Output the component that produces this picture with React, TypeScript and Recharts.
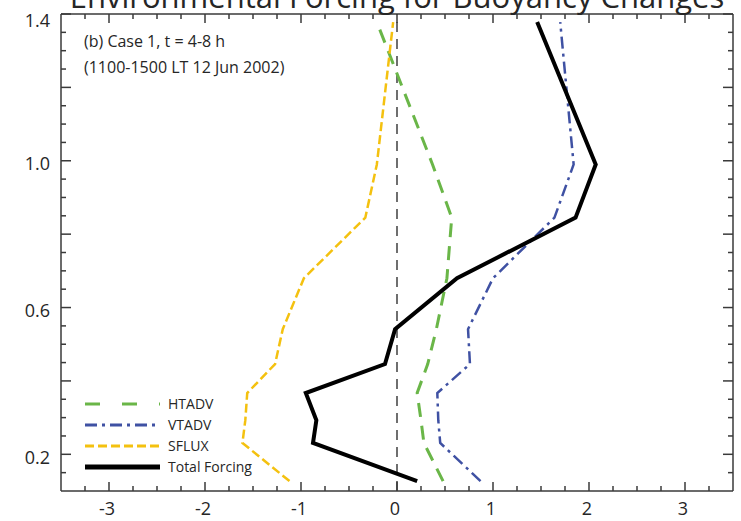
import React from "react";
import { LineChart, Line, XAxis, YAxis, ReferenceLine } from "recharts";

// height levels (km) and forcing terms at each level
const heights = [0.127, 0.231, 0.293, 0.367, 0.446, 0.541, 0.68, 0.845, 0.99, 1.378];
const htadv = [0.48, 0.28, 0.25, 0.21, 0.32, 0.41, 0.52, 0.57, 0.37, -0.21];
const vtadv = [0.87, 0.45, 0.43, 0.42, 0.76, 0.74, 1.0, 1.64, 1.84, 1.7];
const sflux = [-1.12, -1.61, -1.58, -1.56, -1.27, -1.19, -0.97, -0.33, -0.21, -0.04];
const total = [0.21, -0.875, -0.84, -0.95, -0.125, -0.02, 0.625, 1.86, 2.07, 1.46];

const xTicks = [
  -3.25, -3, -2.75, -2.5, -2.25, -2, -1.75, -1.5, -1.25, -1, -0.75, -0.5, -0.25, 0,
  0.25, 0.5, 0.75, 1, 1.25, 1.5, 1.75, 2, 2.25, 2.5, 2.75, 3, 3.25,
];
const xLabels = [-3, -2, -1, 0, 1, 2, 3];
const yTicks = [
  0.15, 0.2, 0.25, 0.3, 0.35, 0.4, 0.45, 0.5, 0.55, 0.6, 0.65, 0.7, 0.75,
  0.8, 0.85, 0.9, 0.95, 1.0, 1.05, 1.1, 1.15, 1.2, 1.25, 1.3, 1.35, 1.4,
];
const yMajor = [0.2, 0.4, 0.6, 0.8, 1.0, 1.2, 1.4];
const yLabels = [0.2, 0.6, 1.0, 1.4];

const data = heights.map((h, i) => ({
  h,
  htadv: htadv[i],
  vtadv: vtadv[i],
  sflux: sflux[i],
  total: total[i],
}));

const FONT = "'Open Sans', sans-serif";
const AXIS = "#3a3a3a";
const TEXT = "#262626";

const has = (arr: number[], v: number) => arr.some((m) => Math.abs(m - v) < 1e-6);

const BottomTick = (props: any) => {
  const { x, y, payload } = props;
  const v = payload.value;
  const major = Number.isInteger(v);
  return (
    <g>
      <line x1={x} x2={x} y1={y} y2={y - (major ? 9 : 5)} stroke={AXIS} strokeWidth={1.5} />
      {has(xLabels, v) && (
        <text x={x - 2} y={y + 24} textAnchor="middle" fontSize={18} fontFamily={FONT} fill={TEXT}>
          {v}
        </text>
      )}
    </g>
  );
};

const TopTick = (props: any) => {
  const { x, y, payload } = props;
  const major = Number.isInteger(payload.value);
  return <line x1={x} x2={x} y1={y} y2={y + (major ? 9 : 5)} stroke={AXIS} strokeWidth={1.5} />;
};

const LeftTick = (props: any) => {
  const { x, y, payload } = props;
  const v = payload.value;
  const major = has(yMajor, v);
  const shift = Math.abs(v - 1.4) < 1e-6 ? 7 : 3;
  return (
    <g>
      <line x1={x} x2={x + (major ? 10 : 5)} y1={y} y2={y} stroke={AXIS} strokeWidth={1.5} />
      {has(yLabels, v) && (
        <text x={x - 11} y={y + shift} dy="0.35em" textAnchor="end" fontSize={18} fontFamily={FONT} fill={TEXT}>
          {v.toFixed(1)}
        </text>
      )}
    </g>
  );
};

const RightTick = (props: any) => {
  const { x, y, payload } = props;
  const major = has(yMajor, payload.value);
  return <line x1={x} x2={x - (major ? 10 : 5)} y1={y} y2={y} stroke={AXIS} strokeWidth={1.5} />;
};

const series = [
  { key: "htadv", name: "HTADV", color: "#6ab648", width: 3, dash: "14 9" },
  { key: "vtadv", name: "VTADV", color: "#3f51a3", width: 2.5, dash: "12 5 3 5" },
  { key: "sflux", name: "SFLUX", color: "#f4c10f", width: 2.5, dash: "9 4" },
  { key: "total", name: "Total Forcing", color: "#000000", width: 4, dash: undefined },
];

export default function App() {
  return (
    <div style={{ position: "absolute", left: 0, top: 0, width: 741, height: 521, background: "#fff" }}>
      <LineChart
        width={741}
        height={521}
        data={data}
        layout="vertical"
        margin={{ top: 0, right: 0, bottom: 0, left: 0 }}
      >
        <XAxis
          xAxisId="b"
          type="number"
          domain={[-3.5, 3.5]}
          allowDataOverflow
          ticks={xTicks}
          interval={0}
          height={30}
          tickSize={0}
          tickMargin={0}
          tickLine={false}
          axisLine={{ stroke: AXIS, strokeWidth: 1.5 }}
          tick={<BottomTick />}
        />
        <XAxis
          xAxisId="t"
          orientation="top"
          type="number"
          domain={[-3.5, 3.5]}
          allowDataOverflow
          ticks={xTicks}
          interval={0}
          height={14}
          tickSize={0}
          tickMargin={0}
          tickLine={false}
          axisLine={{ stroke: AXIS, strokeWidth: 1.5 }}
          tick={<TopTick />}
        />
        <YAxis
          yAxisId="l"
          dataKey="h"
          type="number"
          domain={[0.1, 1.4]}
          allowDataOverflow
          reversed
          ticks={yTicks}
          interval={0}
          width={61}
          tickSize={0}
          tickMargin={0}
          tickLine={false}
          axisLine={{ stroke: AXIS, strokeWidth: 1.5 }}
          tick={<LeftTick />}
        />
        <YAxis
          yAxisId="r"
          orientation="right"
          dataKey="h"
          type="number"
          domain={[0.1, 1.4]}
          allowDataOverflow
          reversed
          ticks={yTicks}
          interval={0}
          width={8}
          tickSize={0}
          tickMargin={0}
          tickLine={false}
          axisLine={{ stroke: AXIS, strokeWidth: 1.5 }}
          tick={<RightTick />}
        />
        <ReferenceLine
          x={0}
          xAxisId="b"
          yAxisId="l"
          stroke="#222"
          strokeWidth={1.3}
          strokeDasharray="10 7"
        />
        {series.map((s) => (
          <Line
            key={s.key}
            xAxisId="b"
            yAxisId="l"
            dataKey={s.key}
            name={s.name}
            stroke={s.color}
            strokeWidth={s.width}
            strokeDasharray={s.dash}
            strokeLinejoin="miter"
            dot={false}
            activeDot={false}
            isAnimationActive={false}
          />
        ))}
      </LineChart>
      <svg
        width={741}
        height={521}
        style={{ position: "absolute", left: 0, top: 0, pointerEvents: "none" }}
      >
        <text x={397} y={8} textAnchor="middle" fontSize={31} fontFamily={FONT} fill={TEXT}>
          Environmental Forcing for Buoyancy Changes
        </text>
        <text x={84} y={47} fontSize={16} fontFamily={FONT} fill={TEXT}>
          (b) Case 1, t = 4-8 h
        </text>
        <text x={84} y={73} fontSize={16} fontFamily={FONT} fill={TEXT}>
          (1100-1500 LT 12 Jun 2002)
        </text>
        {series.map((s, i) => {
          const y = 404 + i * 21;
          return (
            <g key={s.key}>
              <line
                x1={85}
                x2={160}
                y1={y}
                y2={y}
                stroke={s.color}
                strokeWidth={s.key === "total" ? 5 : 3}
                strokeDasharray={s.key === "htadv" ? "15 22" : s.dash}
              />
              <text x={168} y={y} dy="0.35em" fontSize={14} fontFamily={FONT} fill={TEXT}>
                {s.name}
              </text>
            </g>
          );
        })}
      </svg>
    </div>
  );
}
